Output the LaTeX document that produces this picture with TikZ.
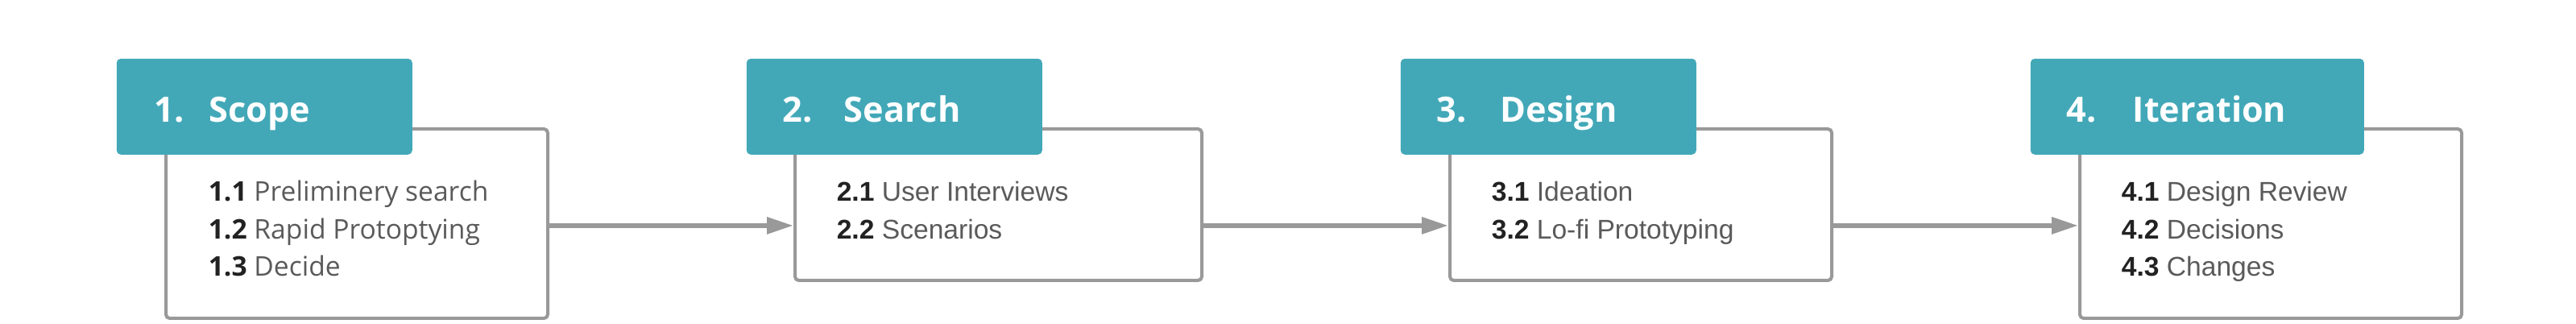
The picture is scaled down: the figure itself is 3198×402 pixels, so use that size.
\documentclass[tikz,border=0pt]{standalone}
\usepackage{fontspec}
\setmainfont{Liberation Sans}
\newfontfamily\opensans{Open Sans}
\usetikzlibrary{arrows.meta}
\definecolor{teal1}{RGB}{66,168,184}
\definecolor{linegray}{RGB}{153,153,153}
\definecolor{itemgray}{RGB}{90,90,90}
\definecolor{numdark}{RGB}{34,34,34}
\tikzset{
  body/.style={draw=linegray, line width=1pt, rounded corners=1.2pt, fill=white, anchor=north west, inner sep=0pt, minimum height=#1},
  head/.style={fill=teal1, rounded corners=1.3pt, anchor=north west, inner sep=0pt, minimum height=29.75pt, minimum width=#1},
  htext/.style={anchor=base west, inner sep=0pt, text=white, font=\opensans\bfseries\fontsize{10.8pt}{12pt}\selectfont},
  itemA/.style={anchor=base west, inner sep=0pt, text=itemgray, font=\opensans\fontsize{8.4pt}{9pt}\selectfont},
  itemB/.style={anchor=base west, inner sep=0pt, text=itemgray, font=\fontsize{8.4pt}{9pt}\selectfont},
  flow/.style={draw=linegray, line width=1.5pt, -{Triangle[length=8.25pt,width=5pt]}}
}
\newcommand{\num}[1]{\textcolor{numdark}{\bfseries #1}}
\begin{document}
\begin{tikzpicture}[x=0.25pt,y=-0.25pt]
\useasboundingbox[fill=white] (0,0) rectangle (3198,402);
% bodies
\node[body=58.75pt, minimum width=118.5pt] (b1) at (204,158) {};
\node[body=47pt, minimum width=126.25pt] (b2) at (985,158) {};
\node[body=47pt, minimum width=118.5pt] (b3) at (1798,158) {};
\node[body=58.75pt, minimum width=118.5pt] (b4) at (2580,158) {};
% headers
\node[head=91.75pt] (h1) at (144,72) {};
\node[head=91.75pt] (h2) at (926,72) {};
\node[head=91.75pt] (h3) at (1738,72) {};
\node[head=103.5pt] (h4) at (2520,72) {};
% header texts
\node[htext] (h1n) at (191,152) {1.};
\node[htext] (h1t) at (259,152) {Scope};
\node[htext] (h2n) at (971,152) {2.};
\node[htext] (h2t) at (1047,152) {Search};
\node[htext] (h3n) at (1783,152) {3.};
\node[htext] (h3t) at (1862,152) {Design};
\node[htext] (h4n) at (2565,152) {4.};
\node[htext] (h4t) at (2647,152) {Iteration};
% items
\node[itemA] (i11) at (258,250) {\num{1.1} Preliminery search};
\node[itemA] (i12) at (258,297) {\num{1.2} Rapid Protoptying};
\node[itemA] (i13) at (258,343) {\num{1.3} Decide};
\node[itemB] (i21) at (1038,250) {\num{2.1} User Interviews};
\node[itemB] (i22) at (1038,297) {\num{2.2} Scenarios};
\node[itemB] (i31) at (1851,250) {\num{3.1} Ideation};
\node[itemB] (i32) at (1851,297) {\num{3.2} Lo-fi Prototyping};
\node[itemB] (i41) at (2633,250) {\num{4.1} Design Review};
\node[itemB] (i42) at (2633,297) {\num{4.2} Decisions};
\node[itemB] (i43) at (2633,343) {\num{4.3} Changes};
% arrows
\coordinate (a1) at ([yshift=-0.6pt]b1.east);
\draw[flow] (a1) -- (b2.west |- a1);
\draw[flow] (b2.east |- a1) -- (b3.west |- a1);
\draw[flow] (b3.east |- a1) -- (b4.west |- a1);
\end{tikzpicture}
\end{document}
